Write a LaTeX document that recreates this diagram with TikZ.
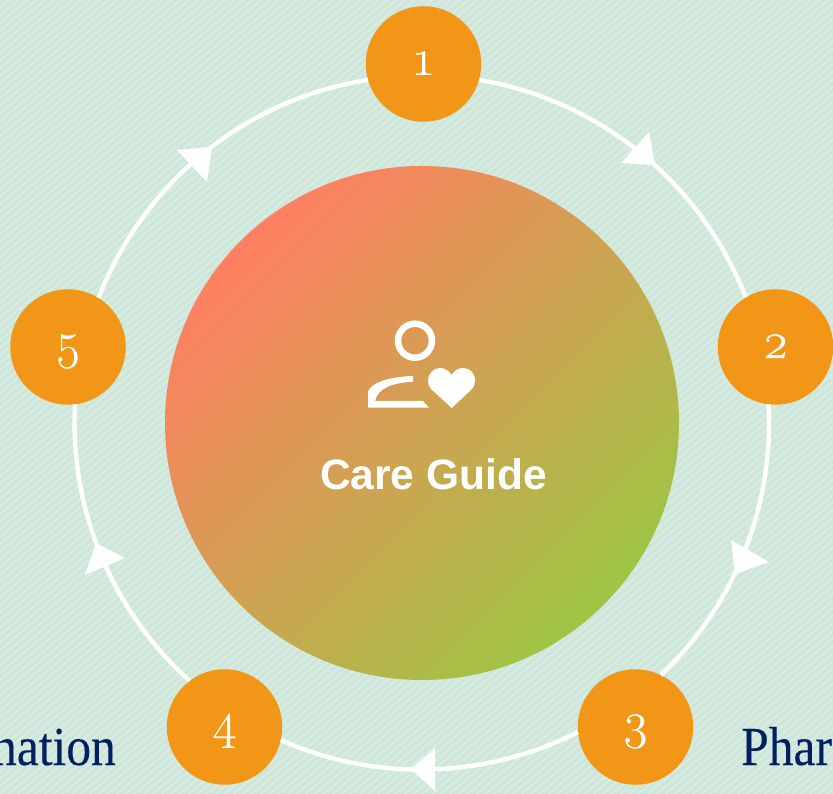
\documentclass[tikz,border=0pt]{standalone}
\usepackage{fontspec}
\newfontfamily\labelfont{Liberation Serif}[FakeStretch=0.9,FakeBold=0.15]
\newfontfamily\titlefont{Liberation Sans}
\newfontfamily\stepfont{Latin Modern Roman}[Numbers=OldStyle,FakeBold=0.4]
\definecolor{bgbase}{HTML}{DBEFE5}
\definecolor{bgstripe}{HTML}{CFE6DA}
\definecolor{stepfill}{HTML}{F19616}
\definecolor{hubcoral}{HTML}{FF7F60}
\definecolor{hubgreen}{HTML}{9FC544}
\definecolor{labelnavy}{HTML}{002060}
\tikzset{
	stepnode/.style={circle,fill=stepfill,text=white,minimum size=115.5pt,inner sep=0pt,outer sep=0pt,text height=22pt,text depth=0pt,font=\stepfont\fontsize{51}{51}\selectfont},
	ringline/.style={draw=white,line width=4.4pt},
	ringtip/.style={fill=white},
	stripeline/.style={draw=bgstripe,line width=4.2pt},
	sidelabel/.style={text=labelnavy,inner sep=0pt,font=\labelfont\fontsize{55}{55}\selectfont}
}
\begin{document}
\begin{tikzpicture}[x=1pt,y=1pt,line join=miter]
	\useasboundingbox (0,0) rectangle (833,793);
	\clip (-3,-3) rectangle (836,796);
	\fill[bgbase] (-3,-3) rectangle (836,796);
	\foreach \k in {-107,...,95}
		\draw[stripeline] (\k*9,-12)--++(973,817);
	\node[circle,minimum size=514pt,inner sep=0pt,outer sep=0pt,left color=hubcoral,right color=hubgreen,shading angle=45] (hub) at (422,370) {};
	\node[stepnode] (n1) at (423.5,729) {1};
	\node[stepnode] (n2) at (775.5,446) {2};
	\node[stepnode] (n3) at (635.5,66) {3};
	\node[stepnode] (n4) at (224.5,66) {4};
	\node[stepnode] (n5) at (68,446) {5};
	\draw[ringline] (n1.-16.9) to[out=-9.46,in=111.1,looseness=.912] (n2.121.8);
	\draw[ringline] (n2.-97.5) to[out=-86.9,in=43.43,looseness=.893] (n3.64.6);
	\draw[ringline] (n3.185.5) to[out=206.87,in=336.03,looseness=.894] (n4.-13.2);
	\draw[ringline] (n4.127.3) to[out=138.09,in=266.87,looseness=.895] (n5.-83);
	\draw[ringline] (n5.58.8) to[out=68.87,in=188.84,looseness=.913] (n1.196.2);
	\fill[ringtip] (655,628)--(649,661)--(621,630)--cycle;
	\fill[ringtip] (735,219)--(731,253)--(769,231)--cycle;
	\fill[ringtip] (410.5,24)--(435,45)--(435,2)--cycle;
	\fill[ringtip] (96,250)--(125,235)--(85,218)--cycle;
	\fill[ringtip] (212,646)--(177,643)--(207,611)--cycle;
	\draw[white,line width=6.5pt] (415,452.3) circle (17pt);
	\fill[white] (368,385.3)--(368,401) .. controls (370,409) and (385,416) .. (413,417)--(413,411.3) .. controls (392,410) and (378,405) .. (375,392)--(423,392)--(429,385.3)--cycle;
	\fill[white] (451.7,385)--(431,404) .. controls (429,406) and (428,409) .. (428,412) .. controls (428,420) and (434,425) .. (440,425) .. controls (445,425) and (449,422) .. (451.7,418) .. controls (454,422) and (458,425) .. (463,425) .. controls (470,425) and (475,420) .. (475,412) .. controls (475,409) and (474,406) .. (472,404)--cycle;
	\node[text=white,inner sep=0pt,font=\titlefont\bfseries\fontsize{42.5}{42.5}\selectfont] (title) at (433.5,319) {Care Guide};
	\node[sidelabel,anchor=base east] (left) at (116,28) {nation};
	\node[sidelabel,anchor=base west] (right) at (741,28) {Phar};
\end{tikzpicture}
\end{document}
